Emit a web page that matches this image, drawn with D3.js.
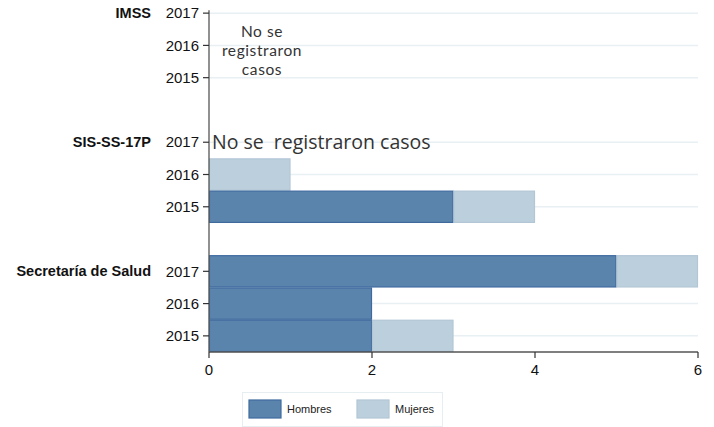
<script src="https://cdnjs.cloudflare.com/ajax/libs/d3/7.8.5/d3.min.js"></script>
<style>
  body { margin: 0; background: #fff; }
  svg { font-family: "Liberation Sans", Arial, sans-serif; }
</style>
<svg id="chart"></svg>
<script>
// data, years listed top to bottom inside each group
const instituciones = ["IMSS", "SIS-SS-17P", "Secretaría de Salud"];
const anios = ["2017", "2016", "2015"];
const hombres = [[0, 0, 0], [0, 0, 3], [5, 2, 2]];
const mujeres = [[0, 0, 0], [0, 1, 1], [1, 0, 1]];
const xTicks = [0, 2, 4, 6];
const series = ["Hombres", "Mujeres"];
const colores = { Hombres: "#5b84ad", Mujeres: "#bccfdc" };
const bordes = { Hombres: "#3e6a9e", Mujeres: "#b2c6d5" };

const width = 714, height = 427;
const svg = d3.select("#chart").attr("width", width).attr("height", height);

// one band per year row, plus an empty band between groups
const filas = [];
instituciones.forEach((inst, g) => {
  if (g > 0) filas.push({ key: "gap" + g, gap: true });
  anios.forEach((a, j) => {
    filas.push({ key: inst + "-" + a, inst, g, anio: a, j,
      h: hombres[g][j], m: mujeres[g][j] });
  });
});

const x = d3.scaleLinear().domain([0, 6]).range([209, 698]);
const y = d3.scaleBand().domain(filas.map(d => d.key)).range([-3, 352]).padding(0);
const fila = k => y(k) + y.bandwidth() / 2;

// gridlines
svg.append("g").selectAll("line")
  .data(filas.filter(d => !d.gap))
  .join("line")
  .attr("x1", x(0)).attr("x2", x(6))
  .attr("y1", d => fila(d.key)).attr("y2", d => fila(d.key))
  .attr("stroke", "#e8f0f3").attr("stroke-width", 1.5);

// stacked bars
const barras = svg.append("g");
filas.filter(d => !d.gap).forEach(d => {
  const partes = [
    { s: "Hombres", x0: 0, x1: d.h },
    { s: "Mujeres", x0: d.h, x1: d.h + d.m }
  ].filter(p => p.x1 > p.x0);
  barras.selectAll(null).data(partes).join("rect")
    .attr("x", p => x(p.x0) + 0.5)
    .attr("y", y(d.key) + 0.5)
    .attr("width", p => x(p.x1) - x(p.x0) - 1)
    .attr("height", y.bandwidth() - 1)
    .attr("fill", p => colores[p.s])
    .attr("stroke", p => bordes[p.s])
    .attr("stroke-width", 1.2);
});

// left axis
const yAxis = svg.append("g").attr("transform", `translate(${x(0)},0)`);
yAxis.append("line")
  .attr("x1", 0).attr("x2", 0)
  .attr("y1", fila(filas[0].key) - 3).attr("y2", 352)
  .attr("stroke", "#555").attr("stroke-width", 1.3);
const ticksY = yAxis.selectAll("g.t")
  .data(filas.filter(d => !d.gap)).join("g")
  .attr("transform", d => `translate(0,${fila(d.key)})`);
ticksY.append("line").attr("x1", -6).attr("x2", 0).attr("stroke", "#333").attr("stroke-width", 1.2);
ticksY.append("text")
  .attr("x", -10).attr("dy", "0.35em").attr("text-anchor", "end")
  .attr("font-size", 15).attr("fill", "#111")
  .text(d => d.anio);

// group labels
svg.append("g").selectAll("text")
  .data(filas.filter(d => !d.gap && d.j === 0))
  .join("text")
  .attr("x", 151).attr("y", d => fila(d.key))
  .attr("dy", "0.35em").attr("text-anchor", "end")
  .attr("font-size", 14.5).attr("font-weight", "bold").attr("fill", "#111")
  .text(d => d.inst);

// bottom axis
const xAxis = svg.append("g").attr("transform", "translate(0,352)");
xAxis.append("line").attr("x1", x(0)).attr("x2", x(6)).attr("stroke", "#555").attr("stroke-width", 1.3);
const ticksX = xAxis.selectAll("g.t").data(xTicks).join("g")
  .attr("transform", d => `translate(${x(d)},0)`);
ticksX.append("line").attr("y1", 0).attr("y2", 6).attr("stroke", "#333").attr("stroke-width", 1.2);
ticksX.append("text").attr("y", 23).attr("text-anchor", "middle")
  .attr("font-size", 15).attr("fill", "#111").text(d => d);

// "no data" notes
["No se", "registraron", "casos"].forEach((t, i) => {
  svg.append("text")
    .attr("x", 262).attr("y", 37 + i * 18.8)
    .attr("font-family", "Lato, sans-serif").attr("font-size", 15.5).attr("fill", "#333")
    .attr("letter-spacing", 0.6)
    .attr("text-anchor", "middle")
    .text(t);
});
svg.append("text")
  .attr("x", 212).attr("y", fila("SIS-SS-17P-2017") + 7)
  .attr("font-family", "'Open Sans', sans-serif").attr("font-size", 19.5).attr("fill", "#333")
  .style("white-space", "pre")
  .text("No se  registraron casos");

// legend
const leg = svg.append("g");
leg.append("rect").attr("x", 242.5).attr("y", 392.5).attr("width", 200).attr("height", 34)
  .attr("fill", "#fff").attr("stroke", "#e6eef1");
const items = leg.selectAll("g.i").data(series).join("g")
  .attr("transform", (d, i) => `translate(${249 + i * 108},400)`);
items.append("rect").attr("width", 32).attr("height", 18)
  .attr("fill", d => colores[d]).attr("stroke", d => bordes[d]).attr("stroke-width", 1.2);
items.append("text").attr("x", 38).attr("y", 9).attr("dy", "0.35em")
  .attr("font-size", 11).attr("fill", "#222").text(d => d);
</script>
